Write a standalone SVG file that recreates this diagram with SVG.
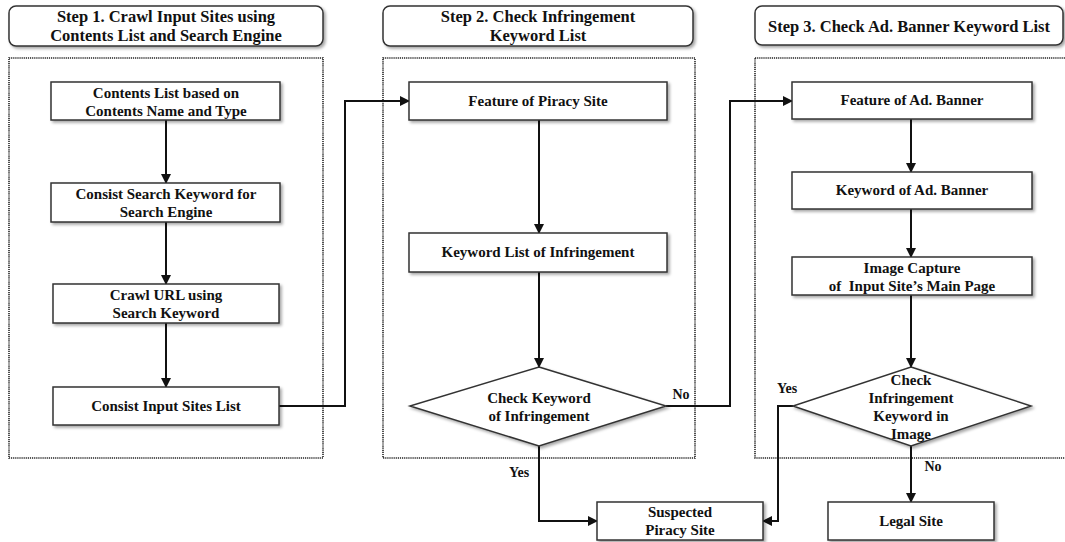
<svg xmlns="http://www.w3.org/2000/svg" width="1065" height="542" viewBox="0 0 1065 542">
  <defs>
    <filter id="shadow" x="-10%" y="-20%" width="125%" height="150%">
      <feDropShadow dx="2" dy="2" stdDeviation="1.5" flood-color="#000" flood-opacity="0.35"/>
    </filter>
    <marker id="arrow" viewBox="0 0 10 10" refX="9" refY="5" markerWidth="5" markerHeight="5" orient="auto" markerUnits="strokeWidth">
      <path d="M0,0 L10,5 L0,10 z" fill="#111"/>
    </marker>
  </defs>
  <style>
    .title { fill: #fff; stroke: #333; stroke-width: 1.5; filter: url(#shadow); }
    .box { fill: #fff; stroke: #333; stroke-width: 1.5; filter: url(#shadow); }
    .frame { fill: none; stroke: #222; stroke-width: 1.6; stroke-dasharray: 1.2 0.9; }
    .conn { fill: none; stroke: #111; stroke-width: 2; }
    text { font-family: "Liberation Serif", "Times New Roman", serif; font-weight: bold; fill: #111; text-anchor: middle; }
    .t-title { font-size: 16.5px; }
    .t-node { font-size: 15px; }
    .t-label { font-size: 14px; }
    .pre { white-space: pre; }
  </style>

  <rect width="1065" height="542" fill="#fff"/>

  <!-- step headers -->
  <g id="step1-header">
    <rect class="title" x="9" y="6" width="314" height="40" rx="7"/>
    <text class="t-title" x="166" y="22">Step 1. Crawl Input Sites using</text>
    <text class="t-title" x="166" y="41">Contents List and Search Engine</text>
  </g>
  <g id="step2-header">
    <rect class="title" x="383" y="6" width="310" height="40" rx="7"/>
    <text class="t-title" x="538" y="22">Step 2. Check Infringement</text>
    <text class="t-title" x="538" y="41">Keyword List</text>
  </g>
  <g id="step3-header">
    <rect class="title" x="755" y="6" width="308" height="39" rx="7"/>
    <text class="t-title" x="909" y="32">Step 3. Check Ad. Banner Keyword List</text>
  </g>

  <!-- dotted step frames -->
  <g id="frames">
    <rect class="frame" x="9" y="58" width="314" height="400"/>
    <rect class="frame" x="383" y="58" width="312" height="400"/>
    <rect class="frame" x="755" y="58" width="320" height="400"/>
  </g>

  <!-- connectors -->
  <g id="connectors">
    <line class="conn" x1="166" y1="120" x2="166" y2="183" marker-end="url(#arrow)"/>
    <line class="conn" x1="166" y1="222" x2="166" y2="284" marker-end="url(#arrow)"/>
    <line class="conn" x1="166" y1="323" x2="166" y2="387" marker-end="url(#arrow)"/>
    <polyline class="conn" points="279,406 345,406 345,101 409,101" marker-end="url(#arrow)"/>
    <line class="conn" x1="539" y1="120" x2="539" y2="233" marker-end="url(#arrow)"/>
    <line class="conn" x1="539" y1="272" x2="539" y2="367" marker-end="url(#arrow)"/>
    <polyline class="conn" points="666,406 730,406 730,101 792,101" marker-end="url(#arrow)"/>
    <polyline class="conn" points="539,446 539,521 597,521" marker-end="url(#arrow)"/>
    <line class="conn" x1="911" y1="119" x2="911" y2="172" marker-end="url(#arrow)"/>
    <line class="conn" x1="911" y1="209" x2="911" y2="257" marker-end="url(#arrow)"/>
    <line class="conn" x1="911" y1="295" x2="911" y2="367" marker-end="url(#arrow)"/>
    <polyline class="conn" points="793,406 778,406 778,521 763,521" marker-end="url(#arrow)"/>
    <line class="conn" x1="911" y1="446" x2="911" y2="502" marker-end="url(#arrow)"/>
    <text class="t-label" x="681" y="399">No</text>
    <text class="t-label" x="519" y="477">Yes</text>
    <text class="t-label" x="787" y="393">Yes</text>
    <text class="t-label" x="933" y="471">No</text>
  </g>

  <!-- step 1 nodes -->
  <g id="contents-list">
    <rect class="box" x="51" y="82" width="229" height="38"/>
    <text class="t-node" x="166" y="98">Contents List based on</text>
    <text class="t-node" x="166" y="116">Contents Name and Type</text>
  </g>
  <g id="search-keyword">
    <rect class="box" x="51" y="183" width="229" height="39"/>
    <text class="t-node" x="166" y="199">Consist Search Keyword for</text>
    <text class="t-node" x="166" y="217">Search Engine</text>
  </g>
  <g id="crawl-url">
    <rect class="box" x="53" y="284" width="226" height="39"/>
    <text class="t-node" x="166" y="300">Crawl URL using</text>
    <text class="t-node" x="166" y="318">Search Keyword</text>
  </g>
  <g id="input-sites">
    <rect class="box" x="53" y="387" width="226" height="38"/>
    <text class="t-node" x="166" y="411">Consist Input Sites List</text>
  </g>

  <!-- step 2 nodes -->
  <g id="piracy-feature">
    <rect class="box" x="409" y="82" width="258" height="38"/>
    <text class="t-node" x="538" y="106">Feature of Piracy Site</text>
  </g>
  <g id="infringement-list">
    <rect class="box" x="409" y="233" width="258" height="39"/>
    <text class="t-node" x="538" y="257">Keyword List of Infringement</text>
  </g>
  <g id="check-keyword">
    <polygon class="box" points="539,367 666,406 539,446 410,406"/>
    <text class="t-node" x="539" y="403">Check Keyword</text>
    <text class="t-node" x="539" y="421">of Infringement</text>
  </g>

  <!-- step 3 nodes -->
  <g id="banner-feature">
    <rect class="box" x="792" y="82" width="240" height="37"/>
    <text class="t-node" x="912" y="105">Feature of Ad. Banner</text>
  </g>
  <g id="banner-keyword">
    <rect class="box" x="792" y="172" width="240" height="37"/>
    <text class="t-node" x="912" y="195">Keyword of Ad. Banner</text>
  </g>
  <g id="image-capture">
    <rect class="box" x="792" y="257" width="240" height="38"/>
    <text class="t-node" x="912" y="273">Image Capture</text>
    <text class="t-node pre" x="912" y="291">of  Input Site’s Main Page</text>
  </g>
  <g id="check-image">
    <polygon class="box" points="911,367 1031,406 911,446 793,406"/>
    <text class="t-node" x="911" y="385">Check</text>
    <text class="t-node" x="911" y="403">Infringement</text>
    <text class="t-node" x="911" y="421">Keyword in</text>
    <text class="t-node" x="911" y="439">Image</text>
  </g>

  <!-- outcomes -->
  <g id="suspected-piracy">
    <rect class="box" x="597" y="502" width="166" height="38"/>
    <text class="t-node" x="680" y="517">Suspected</text>
    <text class="t-node" x="680" y="535">Piracy Site</text>
  </g>
  <g id="legal-site">
    <rect class="box" x="828" y="502" width="166" height="38"/>
    <text class="t-node" x="911" y="526">Legal Site</text>
  </g>
</svg>
